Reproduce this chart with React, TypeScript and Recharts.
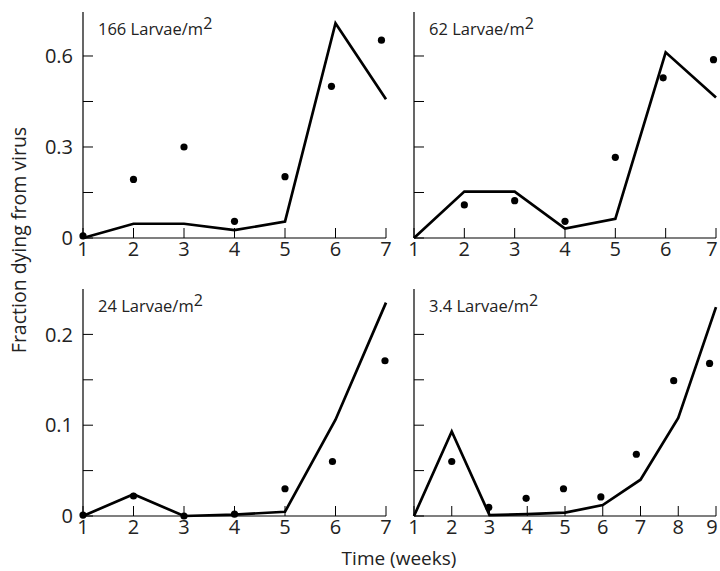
import { ComposedChart, Line, Scatter, XAxis, YAxis } from 'recharts';

const FONT = "'Open Sans', sans-serif";

const weeks7 = [1, 2, 3, 4, 5, 6, 7];
const weeks9 = [1, 2, 3, 4, 5, 6, 7, 8, 9];

// model curves (solid lines)
const model166 = [0, 0.047, 0.047, 0.026, 0.054, 0.708, 0.457];
const model62 = [0, 0.153, 0.153, 0.031, 0.063, 0.612, 0.463];
const model24 = [0, 0.024, 0, 0.0015, 0.0047, 0.106, 0.235];
const model3 = [0, 0.093, 0.001, 0.002, 0.0037, 0.012, 0.04, 0.108, 0.23];

// observed points (dots)
const obs166X = [1, 2, 3, 4, 5, 5.92, 6.91];
const obs166Y = [0.007, 0.193, 0.3, 0.055, 0.202, 0.5, 0.652];
const obs62X = [2, 3, 4, 5, 5.95, 6.95];
const obs62Y = [0.109, 0.123, 0.055, 0.266, 0.528, 0.588];
const obs24X = [1, 2, 3, 4, 5, 5.94, 6.98];
const obs24Y = [0.001, 0.022, 0, 0.002, 0.03, 0.06, 0.171];
const obs3X = [2, 2.98, 3.97, 4.96, 5.95, 6.89, 7.88, 8.83];
const obs3Y = [0.06, 0.0096, 0.0195, 0.03, 0.021, 0.068, 0.149, 0.168];

const topTicks = [0, 0.15, 0.3, 0.45, 0.6];
const topLabels = ['0', '0.3', '0.6'];
const bottomTicks = [0, 0.05, 0.1, 0.15, 0.2];
const bottomLabels = ['0', '0.1', '0.2'];

const zip = (xs: number[], ys: number[]) => xs.map((x, i) => ({ x, y: ys[i] }));

const YW = 60;
const MR = 10;
const MT = 10;
const XH = 40;
const TICK_FS = 20;

interface PanelProps {
  left: number;
  top: number;
  w: number;
  h: number;
  weeks: number[];
  model: number[];
  obsX: number[];
  obsY: number[];
  yMax: number;
  yTicks: number[];
  yLabels: string[] | null;
  density: string;
  edgeRight?: boolean;
}

function Dot(props: any) {
  const { cx, cy } = props;
  return <circle cx={cx} cy={cy} r={3.6} fill="#000" />;
}

function makeXTick(lastValue: number, edgeRight: boolean) {
  return (props: any) => {
    const { x, y, payload } = props;
    // keep the rightmost label inside the page
    const dx = edgeRight && payload.value === lastValue ? -4 : 0;
    return (
      <text x={x + dx} y={y} dy="0.71em" textAnchor="middle" fill="#222" fontSize={TICK_FS} fontFamily={FONT}>
        {payload.value}
      </text>
    );
  };
}

function makeYTick(labels: string[] | null) {
  return (props: any) => {
    const { x, y, payload } = props;
    const s = String(payload.value);
    if (!labels || !labels.includes(s)) return <g />;
    return (
      <text x={x} y={y} dy="0.355em" textAnchor="end" fill="#222" fontSize={TICK_FS} fontFamily={FONT}>
        {s}
      </text>
    );
  };
}

function Panel({ left, top, w, h, weeks, model, obsX, obsY, yMax, yTicks, yLabels, density, edgeRight = false }: PanelProps) {
  const lineData = zip(weeks, model);
  const dotData = zip(obsX, obsY);
  const xDomain = [weeks[0], weeks[weeks.length - 1]];
  return (
    <>
      <div style={{ position: 'absolute', left: left - YW, top: top - MT }}>
        <ComposedChart width={YW + w + MR} height={MT + h + XH} margin={{ top: MT, right: MR, left: 0, bottom: 0 }}>
          <XAxis
            type="number" dataKey="x" domain={xDomain} ticks={weeks} interval={0}
            height={XH} tickSize={-10} tickMargin={14} tick={makeXTick(xDomain[1], edgeRight)}
            axisLine={{ stroke: '#000', strokeWidth: 1.2 }} tickLine={{ stroke: '#000' }}
          />
          <XAxis
            xAxisId="top" orientation="top" type="number" dataKey="x" domain={xDomain}
            height={0} tick={false} tickLine={false} axisLine={{ stroke: '#000', strokeWidth: 1.2 }}
          />
          <YAxis
            type="number" domain={[0, yMax]} ticks={yTicks} interval={0} width={YW}
            tickSize={-10} tickMargin={20} tick={makeYTick(yLabels)}
            axisLine={{ stroke: '#000', strokeWidth: 1.2 }} tickLine={{ stroke: '#000' }}
          />
          <YAxis
            yAxisId="right" orientation="right" type="number" domain={[0, yMax]} width={0}
            tick={false} tickLine={false} axisLine={{ stroke: '#000', strokeWidth: 1.2 }}
          />
          <Line
            data={lineData} dataKey="y" type="linear" stroke="#000" strokeWidth={2.7}
            dot={false} isAnimationActive={false} strokeLinejoin="miter"
          />
          <Scatter data={dotData} dataKey="y" shape={Dot} isAnimationActive={false} />
        </ComposedChart>
      </div>
      <div
        style={{
          position: 'absolute', left: left + 15, top: top + 7, fontFamily: FONT,
          fontSize: 16.5, color: '#222', whiteSpace: 'nowrap', lineHeight: '20px',
        }}
      >
        {density} Larvae/m<span style={{ fontSize: 16, position: 'relative', top: -6 }}>2</span>
      </div>
    </>
  );
}

export default function App() {
  return (
    <div style={{ position: 'absolute', left: 0, top: 0, width: 720, height: 571, background: '#fff', overflow: 'hidden' }}>
      <Panel left={83} top={12} w={303} h={226} weeks={weeks7} model={model166} obsX={obs166X} obsY={obs166Y}
        yMax={0.745} yTicks={topTicks} yLabels={topLabels} density="166" />
      <Panel left={414} top={12} w={302} h={226} weeks={weeks7} model={model62} obsX={obs62X} obsY={obs62Y}
        yMax={0.745} yTicks={topTicks} yLabels={null} density="62" edgeRight />
      <Panel left={83} top={289} w={303} h={227} weeks={weeks7} model={model24} obsX={obs24X} obsY={obs24Y}
        yMax={0.25} yTicks={bottomTicks} yLabels={bottomLabels} density="24" />
      <Panel left={414} top={289} w={302} h={227} weeks={weeks9} model={model3} obsX={obs3X} obsY={obs3Y}
        yMax={0.25} yTicks={bottomTicks} yLabels={null} density="3.4" edgeRight />
      <div
        style={{
          position: 'absolute', left: 19, top: 240, transform: 'translate(-50%, -50%) rotate(-90deg)',
          fontFamily: FONT, fontSize: 19.5, lineHeight: '22px', color: '#222', whiteSpace: 'nowrap',
        }}
      >
        Fraction dying from virus
      </div>
      <div
        style={{
          position: 'absolute', left: 399, top: 549, transform: 'translateX(-50%)',
          fontFamily: FONT, fontSize: 19, lineHeight: '19px', color: '#222', whiteSpace: 'nowrap',
        }}
      >
        Time (weeks)
      </div>
    </div>
  );
}
